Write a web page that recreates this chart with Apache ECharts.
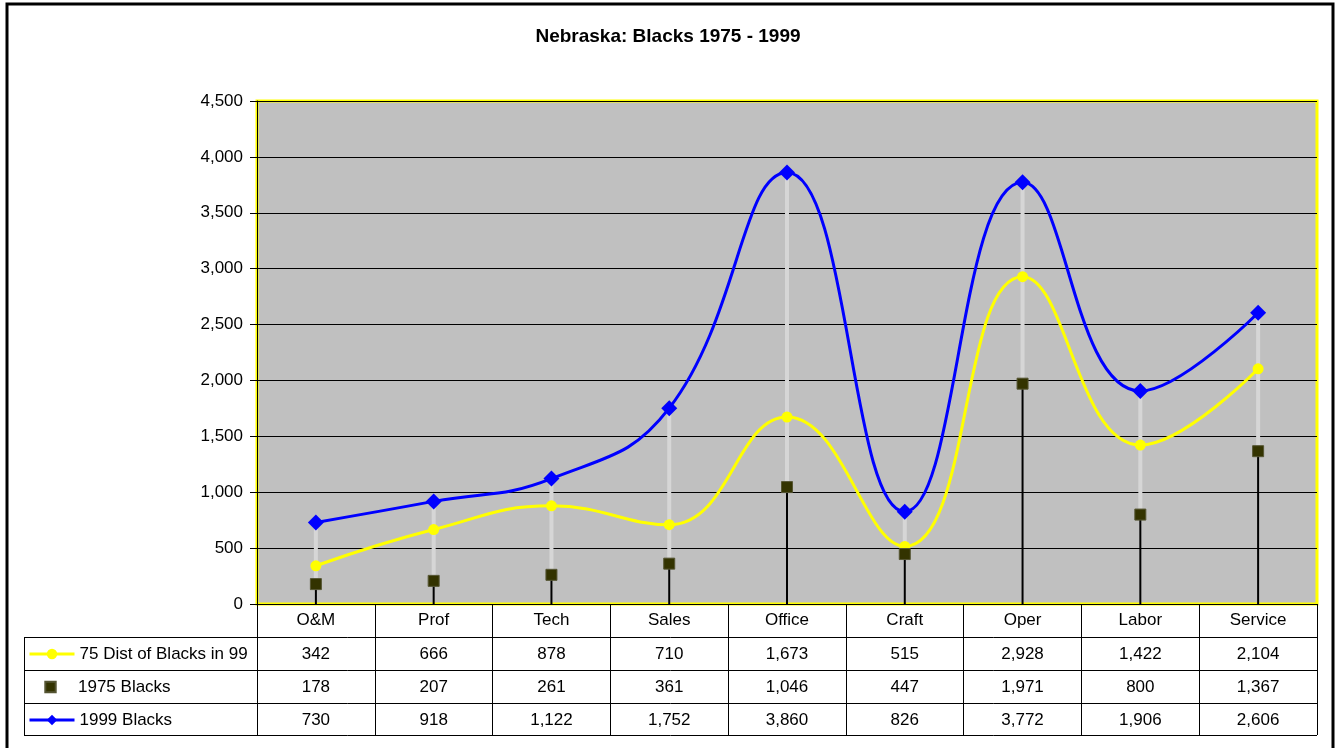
<!DOCTYPE html>
<html>
<head>
<meta charset="utf-8">
<script src="https://cdn.jsdelivr.net/npm/echarts@6/dist/echarts.min.js"></script>
<style>
  html, body { margin: 0; padding: 0; background: #fff; }
  #chart { width: 1336px; height: 748px; }
</style>
</head>
<body>
<div id="chart"></div>
<script>
const categories = ['O&M', 'Prof', 'Tech', 'Sales', 'Office', 'Craft', 'Oper', 'Labor', 'Service'];
const dist75in99 = [342, 666, 878, 710, 1673, 515, 2928, 1422, 2104];
const blacks1975 = [178, 207, 261, 361, 1046, 447, 1971, 800, 1367];
const blacks1999 = [730, 918, 1122, 1752, 3860, 826, 3772, 1906, 2606];
const seriesNames = ['75 Dist of Blacks in 99', '1975 Blacks', '1999 Blacks'];
const yTicks = { min: 0, max: 4500, interval: 500 };

const font = 'Arial, "Liberation Sans", sans-serif';
const fmt = (v) => Number(v).toLocaleString('en-US');

// table rows under the plot, one x axis per row
const tableRows = [dist75in99, blacks1975, blacks1999];
const rowH = 33;
const tableTop = 604;

const chart = echarts.init(document.getElementById('chart'));

const xAxes = [
  {
    type: 'category',
    data: categories,
    gridIndex: 0,
    position: 'bottom',
    boundaryGap: true,
    axisLine: { show: true, lineStyle: { color: '#000', width: 1 } },
    axisTick: { show: true, interval: 0, alignWithLabel: false, length: rowH * 4 - 1, lineStyle: { color: '#000', width: 1 } },
    axisLabel: { interval: 0, margin: 8, fontSize: 17, color: '#000', fontFamily: font },
  },
].concat(tableRows.map((row, i) => ({
  type: 'category',
  data: row.map(fmt),
  gridIndex: 0,
  position: 'bottom',
  offset: rowH * (i + 1),
  boundaryGap: true,
  axisLine: { show: false },
  axisTick: { show: false },
  axisLabel: { interval: 0, margin: 9, fontSize: 17, color: '#000', fontFamily: font },
})));

// one legend per table row so each sits in its own row
const legends = seriesNames.map((name, i) => ({
  orient: 'vertical',
  left: 28,
  top: tableTop + rowH * (i + 1) + rowH / 2 - 8,
  padding: 0,
  itemWidth: 45,
  itemHeight: 13,
  itemGap: 5,
  textStyle: { fontSize: 17, color: '#000', fontFamily: font, lineHeight: 17 },
  data: [i === 1 ? { name: name, lineStyle: { opacity: 0 } } : { name: name, lineStyle: { width: 3 } }],
}));

const option = {
  animation: false,
  backgroundColor: '#fff',
  title: {
    text: 'Nebraska: Blacks 1975 - 1999',
    left: 'center',
    top: 22,
    textStyle: { fontSize: 19, fontWeight: 'bold', color: '#000', fontFamily: font },
  },
  legend: legends,
  grid: {
    left: 257,
    right: 19,
    top: 101,
    bottom: 144,
    show: true,
    backgroundColor: '#C0C0C0',
    borderColor: '#FFFF00',
    borderWidth: 3,
  },
  xAxis: xAxes,
  yAxis: {
    type: 'value',
    min: yTicks.min,
    max: yTicks.max,
    interval: yTicks.interval,
    axisLine: { show: true, lineStyle: { color: '#000', width: 1 } },
    axisTick: { show: true, length: 7, lineStyle: { color: '#000' } },
    axisLabel: { fontSize: 17, color: '#000', fontFamily: font, margin: 14, formatter: fmt },
    splitLine: { show: true, lineStyle: { color: '#000', width: 1 } },
  },
  series: [
    {
      // drop lines and high-low lines
      type: 'custom',
      name: 'lines',
      silent: true,
      z: 1,
      data: categories.map((c, i) => [i, blacks1975[i], blacks1999[i]]),
      renderItem: (params, api) => {
        const i = api.value(0);
        const base = api.coord([i, 0]);
        const low = api.coord([i, api.value(1)]);
        const high = api.coord([i, api.value(2)]);
        return {
          type: 'group',
          children: [
            { type: 'line', shape: { x1: base[0], y1: base[1], x2: low[0], y2: low[1] }, style: { stroke: '#000', lineWidth: 2 } },
            { type: 'line', shape: { x1: high[0], y1: high[1], x2: low[0], y2: low[1] }, style: { stroke: '#D6D6D6', lineWidth: 4 } },
          ],
        };
      },
    },
    {
      name: seriesNames[0],
      type: 'line',
      z: 3,
      data: dist75in99,
      smooth: 0.45,
      symbol: 'circle',
      symbolSize: 11,
      lineStyle: { color: '#FFFF00', width: 3 },
      itemStyle: { color: '#FFFF00' },
    },
    {
      name: seriesNames[1],
      type: 'line',
      z: 3,
      data: blacks1975,
      symbol: 'rect',
      symbolSize: 11,
      lineStyle: { opacity: 0, width: 0 },
      itemStyle: { color: '#333300', borderColor: '#555533', borderWidth: 1 },
    },
    {
      name: seriesNames[2],
      type: 'line',
      z: 4,
      data: blacks1999,
      smooth: 0.45,
      symbol: 'diamond',
      symbolSize: 16,
      lineStyle: { color: '#0000FF', width: 3 },
      itemStyle: { color: '#0000FF' },
    },
  ],
  graphic: [
    { type: 'rect', shape: { x: 7, y: 4, width: 1326, height: 760 }, style: { fill: 'none', stroke: '#000', lineWidth: 3 }, z: 100 },
    { type: 'line', shape: { x1: 24, y1: 637.5, x2: 1317, y2: 637.5 }, style: { stroke: '#000', lineWidth: 1 } },
    { type: 'line', shape: { x1: 24, y1: 670.5, x2: 1317, y2: 670.5 }, style: { stroke: '#000', lineWidth: 1 } },
    { type: 'line', shape: { x1: 24, y1: 703.5, x2: 1317, y2: 703.5 }, style: { stroke: '#000', lineWidth: 1 } },
    { type: 'line', shape: { x1: 24, y1: 735.5, x2: 1317, y2: 735.5 }, style: { stroke: '#000', lineWidth: 1 } },
    { type: 'line', shape: { x1: 24.5, y1: 637, x2: 24.5, y2: 736 }, style: { stroke: '#000', lineWidth: 1 } },
  ],
};

chart.setOption(option);
</script>
</body>
</html>
